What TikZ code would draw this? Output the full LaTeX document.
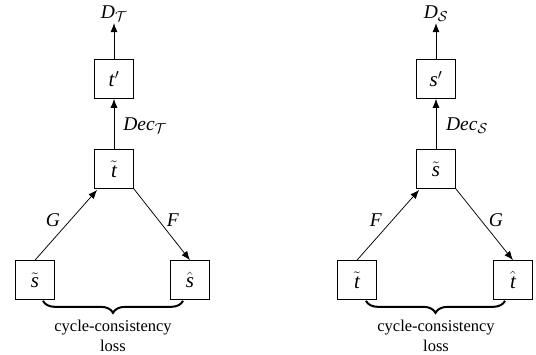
\documentclass[tikz,border=0pt]{standalone}
\usepackage{fontspec}
\setmainfont{Liberation Serif}
\usetikzlibrary{arrows.meta,decorations.pathreplacing,calc}
\begin{document}
\begin{tikzpicture}[x=1pt,y=-1pt,
  font=\rmfamily\fontsize{16.5}{20}\selectfont,
  box/.style={draw, line width=0.7pt, minimum width=39pt, minimum height=39pt, inner sep=0pt, font=\rmfamily\fontsize{21}{24}\selectfont},
  arr/.style={-{Latex[length=9pt,width=7pt]}, line width=0.75pt},
  lbl/.style={inner sep=1pt, font=\rmfamily\fontsize{19.5}{22}\selectfont},
  cbrace/.style={decorate, decoration={brace, amplitude=12pt, mirror}, line width=2pt},
  loss/.style={align=center, inner sep=0pt, font=\rmfamily\fontsize{16.5}{20}\selectfont}]
\useasboundingbox (0,0) rectangle (536,354);
% ---------- left diagram ----------
\node[box] (tp) at (114,79) {\textit{t}$'$};
\node[box] (tt) at (114,169) {$\tilde{\textit{t}}$};
\node[box] (s1) at (35,280) {$\tilde{\textit{s}}$};
\node[box] (s2) at (190,280) {$\hat{\textit{s}}$};
\node[lbl] (dt) at (114,14) {\textit{D}$_{\mathcal{T}}$};
\node[lbl] (dect) at (145,126) {\textit{Dec}$_{\mathcal{T}}$};
\node[lbl] (gl) at (53,220) {\textit{G}};
\node[lbl] (fl) at (173,220) {\textit{F}};
\draw[arr] (tp.north) -- (dt.south);
\draw[arr] (tt.north) -- (tp.south);
\draw[arr] (s1.north) -- ($(tt.south west)+(3,1)$);
\draw[arr] (tt.south east) -- (s2.north);
\coordinate (b1a) at ($(s1.south)+(8,1)$);
\coordinate (b1b) at ($(s2.south)+(-7,1)$);
\draw[cbrace] (b1a) -- (b1b);
\node[loss] (l1) at (113,336) {cycle-consistency\\loss};
% ---------- right diagram ----------
\node[box] (sp) at (436,79) {\textit{s}$'$};
\node[box] (ss) at (436,169) {$\tilde{\textit{s}}$};
\node[box] (t1) at (357,280) {$\tilde{\textit{t}}$};
\node[box] (t2) at (513,280) {$\hat{\textit{t}}$};
\node[lbl] (ds) at (436,14) {\textit{D}$_{\mathcal{S}}$};
\node[lbl] (decs) at (467,126) {\textit{Dec}$_{\mathcal{S}}$};
\node[lbl] (fr) at (376,220) {\textit{F}};
\node[lbl] (gr) at (496,220) {\textit{G}};
\draw[arr] (sp.north) -- (ds.south);
\draw[arr] (ss.north) -- (sp.south);
\draw[arr] (t1.north) -- ($(ss.south west)+(3,1)$);
\draw[arr] (ss.south east) -- (t2.north);
\coordinate (b2a) at ($(t1.south)+(9,1)$);
\coordinate (b2b) at ($(t2.south)+(-8,1)$);
\draw[cbrace] (b2a) -- (b2b);
\node[loss] (l2) at (436,336) {cycle-consistency\\loss};
\end{tikzpicture}
\end{document}
